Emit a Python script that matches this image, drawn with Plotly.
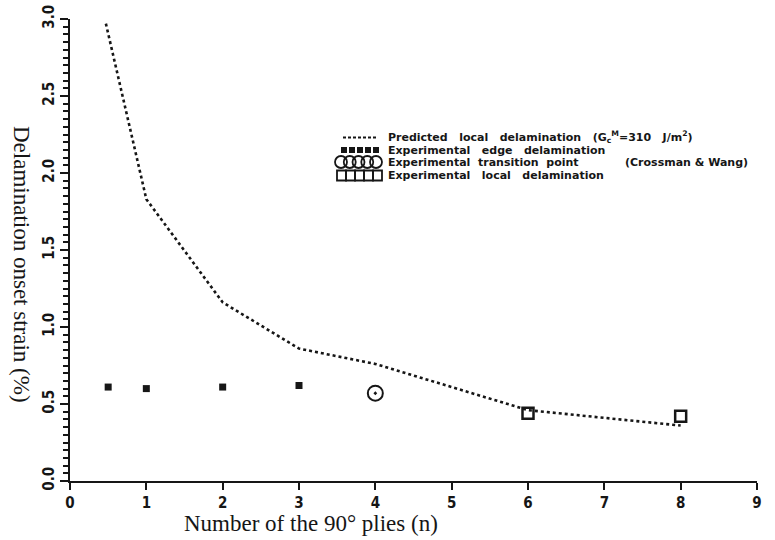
import plotly.graph_objects as go

# ---- data ----
pred_n = [0.47, 1, 2, 3, 4, 5, 6, 7, 8]
pred_strain = [2.97, 1.83, 1.16, 0.86, 0.76, 0.61, 0.46, 0.41, 0.36]

edge_n = [0.5, 1, 2, 3]
edge_strain = [0.61, 0.60, 0.61, 0.62]

trans_n = [4]
trans_strain = [0.57]

local_n = [6, 8]
local_strain = [0.44, 0.42]

x_tick_vals = [0, 1, 2, 3, 4, 5, 6, 7, 8, 9]
y_tick_vals = [0.0, 0.5, 1.0, 1.5, 2.0, 2.5, 3.0]
y_tick_text = ["0.0", "0.5", "1.0", "1.5", "2.0", "2.5", "3.0"]

SP = "\u00a0"
legend_labels = [
    f"Predicted{SP*2} local{SP*2} delamination{SP*2} (G<sub>c</sub><sup>M</sup>=310{SP*2} J/m<sup>2</sup>)",
    f"Experimental{SP*2} edge{SP*2} delamination",
    f"Experimental{SP} transition{SP} point",
    f"Experimental{SP*2} local{SP*2} delamination",
]
legend_note = "(Crossman & Wang)"

# ---- layout geometry (pixels) ----
W, H = 775, 540
ML, MR, MT, MB = 70, 18, 19, 59
PW, PH = W - ML - MR, H - MT - MB


def px(x):
    return (x - ML) / PW


def py(y):
    return (H - MB - y) / PH


INK = "#161616"

fig = go.Figure()

fig.add_trace(go.Scatter(
    x=pred_n, y=pred_strain, mode="lines",
    line=dict(color=INK, width=2.6, dash="3px,3px"),
    showlegend=False, hoverinfo="skip"))

fig.add_trace(go.Scatter(
    x=edge_n, y=edge_strain, mode="markers",
    marker=dict(symbol="square", size=7, color=INK),
    showlegend=False))

fig.add_trace(go.Scatter(
    x=trans_n, y=trans_strain, mode="markers",
    marker=dict(symbol="circle-open-dot", size=15, color=INK,
                line=dict(width=2, color=INK)),
    showlegend=False))

fig.add_trace(go.Scatter(
    x=local_n, y=local_strain, mode="markers",
    marker=dict(symbol="square-open", size=11, color=INK,
                line=dict(width=2.5, color=INK)),
    showlegend=False))

# ---- hand-drawn style legend keys ----
shapes = []
shapes.append(dict(type="line", xref="paper", yref="paper",
                   x0=px(343), x1=px(378), y0=py(137.5), y1=py(137.5),
                   line=dict(color=INK, width=2, dash="3px,2px")))
for cx in [344, 352, 360, 368, 376]:
    shapes.append(dict(type="rect", xref="paper", yref="paper",
                       x0=px(cx - 3), x1=px(cx + 3), y0=py(147), y1=py(153),
                       fillcolor=INK, line=dict(width=0)))
for cx in [341, 349.75, 358.5, 367.25, 376]:
    shapes.append(dict(type="circle", xref="paper", yref="paper",
                       x0=px(cx - 6), x1=px(cx + 6), y0=py(156), y1=py(168),
                       line=dict(color=INK, width=1.8)))
for cx in [341.5, 350.5, 359.5, 368.5, 377.5]:
    shapes.append(dict(type="rect", xref="paper", yref="paper",
                       x0=px(cx - 4.5), x1=px(cx + 4.5), y0=py(170.5), y1=py(180.5),
                       line=dict(color=INK, width=1.8)))

annotations = []
legend_font = dict(family="DejaVu Sans", size=11, color=INK, weight="bold")
for lab, yy in zip(legend_labels, [137.5, 150, 162.5, 175.5]):
    annotations.append(dict(text=lab, xref="paper", yref="paper",
                            x=px(386), y=py(yy), xanchor="left", yanchor="middle",
                            showarrow=False, font=legend_font))
annotations.append(dict(text=legend_note, xref="paper", yref="paper",
                        x=px(623), y=py(162.5), xanchor="left", yanchor="middle",
                        showarrow=False, font=legend_font))

# axis titles
title_font = dict(family="Liberation Serif, Times New Roman, serif", size=23, color=INK)
annotations.append(dict(text="Delamination onset strain (%)", xref="paper", yref="paper",
                        x=px(22), y=py(264), xanchor="center", yanchor="middle",
                        textangle=90, showarrow=False, font=title_font))
annotations.append(dict(text="Number of the 90° plies (n)", xref="paper", yref="paper",
                        x=px(311), y=py(523), xanchor="center", yanchor="middle",
                        showarrow=False, font=title_font))

tick_font = dict(family="Liberation Sans Narrow, DejaVu Sans Condensed, Liberation Sans",
                 size=15, color=INK, weight="bold")

fig.update_layout(
    width=W, height=H,
    margin=dict(l=ML, r=MR, t=MT, b=MB, pad=0),
    paper_bgcolor="white", plot_bgcolor="white",
    shapes=shapes, annotations=annotations,
    showlegend=False,
    xaxis=dict(range=[0, 9], tickvals=x_tick_vals, showgrid=False, zeroline=False,
               automargin=False,
               showline=True, linecolor=INK, linewidth=2,
               ticks="outside", ticklen=7, tickwidth=2, tickcolor=INK,
               tickfont=tick_font),
    yaxis=dict(range=[0, 3], tickvals=y_tick_vals, ticktext=y_tick_text,
               showgrid=False, zeroline=False, automargin=False,
               showline=True, linecolor=INK, linewidth=2,
               ticks="outside", ticklen=8, tickwidth=2, tickcolor=INK,
               tickangle=-90, tickfont=tick_font,
               minor=dict(dtick=0.05, ticks="outside", ticklen=5, tickwidth=1.5,
                          tickcolor=INK, showgrid=False)),
)

fig.write_html("out.html",
               config={"displayModeBar": False},
               post_script="document.body.style.margin='0';document.body.style.overflow='hidden';")
